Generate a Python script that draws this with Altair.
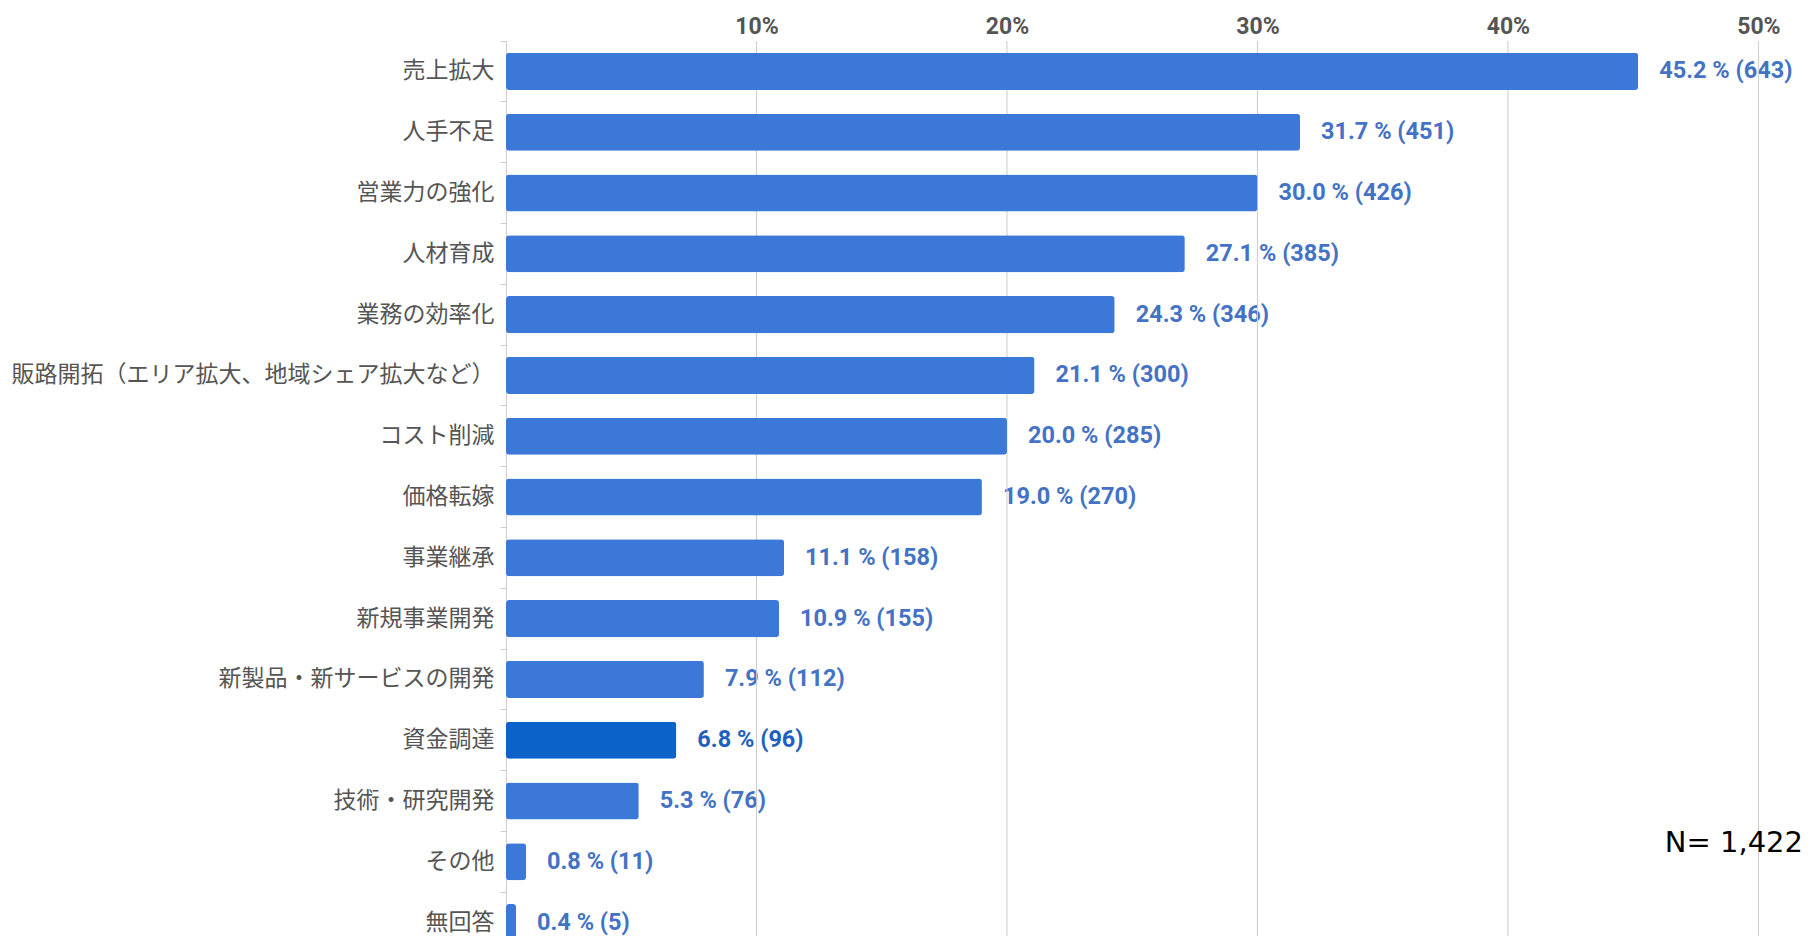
import altair as alt
import pandas as pd

categories = [
    "売上拡大", "人手不足", "営業力の強化", "人材育成", "業務の効率化",
    "販路開拓（エリア拡大、地域シェア拡大など）", "コスト削減", "価格転嫁",
    "事業継承", "新規事業開発", "新製品・新サービスの開発", "資金調達",
    "技術・研究開発", "その他", "無回答",
]
percents = [45.2, 31.7, 30.0, 27.1, 24.3, 21.1, 20.0, 19.0, 11.1, 10.9, 7.9, 6.8, 5.3, 0.8, 0.4]
counts = [643, 451, 426, 385, 346, 300, 285, 270, 158, 155, 112, 96, 76, 11, 5]
highlight = "資金調達"
tick_values = [0.1, 0.2, 0.3, 0.4, 0.5]
n_label = "N= 1,422"
n_row = "その他"

X_MAX = 0.5178
PLOT_W = 1297
PLOT_H = 895
STEP = 60.8

df = pd.DataFrame({
    "cat": categories,
    "pct": [p / 100 for p in percents],
    "label": [f"{p:.1f} % ({c})" for p, c in zip(percents, counts)],
})
grid_df = pd.DataFrame({"v": tick_values})
n_df = pd.DataFrame({"cat": [n_row], "pct": [X_MAX], "label": [n_label]})

x_scale = alt.Scale(domain=[0, X_MAX], nice=False, zero=True)
x_axis = alt.Axis(
    orient="top", values=tick_values, format=".0%", domain=False, ticks=False,
    grid=False, labelFont="Roboto", labelFontWeight="bold", labelFontSize=23,
    labelColor="#555555", labelPadding=3, title=None,
)
y_scale = alt.Scale(range=[0, STEP * len(categories)], paddingInner=0, paddingOuter=0)
y_axis = alt.Axis(
    title=None, bandPosition=0, ticks=True, tickSize=6, tickColor="#cccccc",
    domainColor="#cccccc", labelFont="Noto Sans CJK JP", labelFontSize=23,
    labelColor="#555555", labelPadding=6, labelLimit=800, grid=False,
)

X = alt.X("pct:Q", scale=x_scale, axis=x_axis)
Y = alt.Y("cat:N", sort=categories, scale=y_scale, axis=y_axis)

is_hl = alt.datum.cat == highlight

texts = alt.Chart(df).mark_text(
    align="left", baseline="middle", dx=21, font="Roboto", fontWeight="bold", fontSize=23.5
).encode(
    x=X, y=Y, text="label:N",
    color=alt.condition(is_hl, alt.value("#1f5fbf"), alt.value("#4472c4")),
)

grid = alt.Chart(grid_df).mark_rule(color="#cccccc", strokeWidth=1).encode(
    x=alt.X("v:Q", scale=x_scale, axis=x_axis)
)

bars = alt.Chart(df).mark_bar(height={"band": 0.61}, cornerRadius=3).encode(
    x=X, y=Y,
    color=alt.condition(is_hl, alt.value("#0b63c9"), alt.value("#3c78d8")),
)

n_text = alt.Chart(n_df).mark_text(
    align="right", baseline="middle", dy=-18.5, font="DejaVu Sans", fontSize=29,
    color="#000000",
).encode(x=X, y=Y, text="label:N")

chart = alt.layer(texts, grid, bars, n_text).properties(
    width=PLOT_W, height=PLOT_H,
    autosize=alt.AutoSizeParams(type="none"),
    padding={"left": 498, "top": 33, "right": 0, "bottom": 0},
    background="white",
).configure_view(stroke=None)

chart.save("out.html", embed_options={"renderer": "svg", "actions": False})
